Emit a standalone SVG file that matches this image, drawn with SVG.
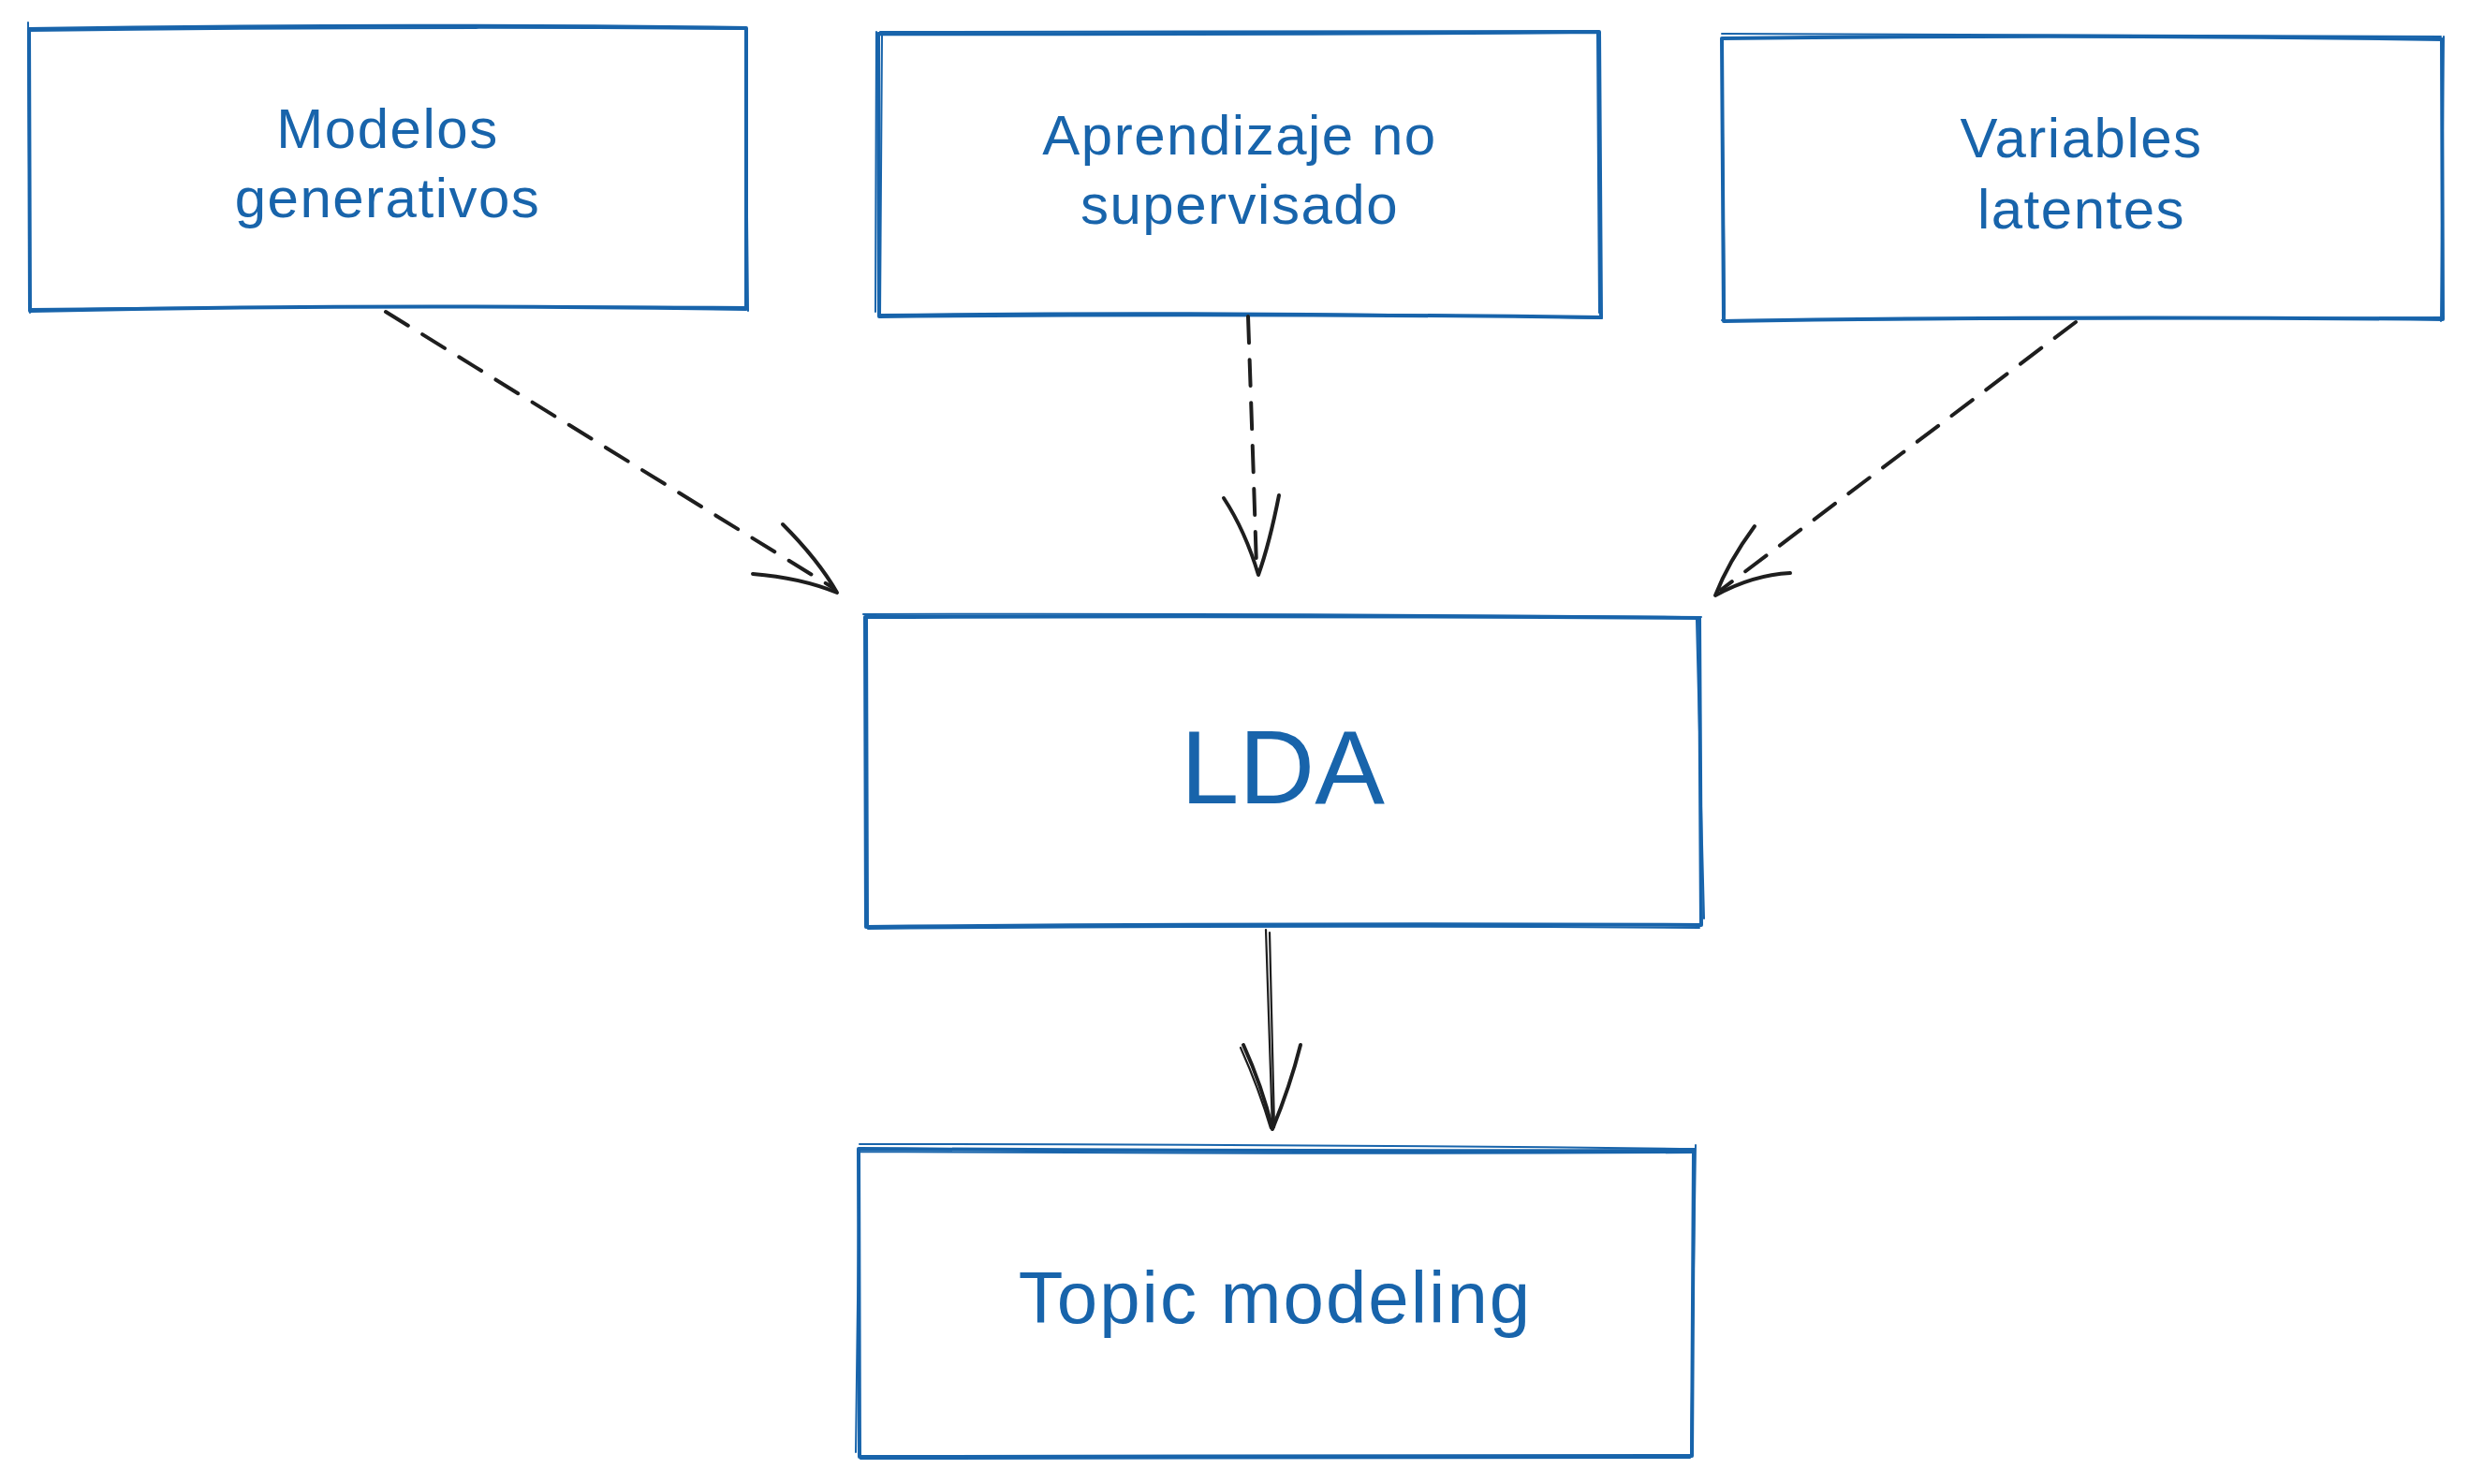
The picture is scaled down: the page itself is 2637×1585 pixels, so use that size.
<svg xmlns="http://www.w3.org/2000/svg" width="2637" height="1585" viewBox="0 0 2637 1585">
<style>
.b{fill:none;stroke:#1864ab;stroke-width:4;stroke-linecap:round;stroke-linejoin:round}
.b2{fill:none;stroke:#1864ab;stroke-width:2;stroke-linecap:round}
.t{font-family:"Liberation Sans","Noto Sans",sans-serif;fill:#1864ab;text-anchor:middle}
.s{font-size:60px;letter-spacing:1.5px}
.a{fill:none;stroke:#1e1e1e;stroke-width:4;stroke-linecap:round;stroke-linejoin:round}
.d{stroke-dasharray:28 18}
.a2{fill:none;stroke:#1e1e1e;stroke-width:2.2;stroke-linecap:round}
</style>
<rect width="2637" height="1585" fill="#ffffff"/>
<g id="n1">
<path class="b" d="M31 31 Q400 25 797 30 L797 330 Q400 324 32 332 Z"/>
<path class="b2" d="M30 24 L32 334 M30 33 Q420 28 795 31 M796 29 L799 332 M33 330 Q420 326 798 328"/>
<text class="t s" x="414" y="158">Modelos</text>
<text class="t s" x="414" y="232">generativos</text>
</g>
<g id="n2">
<path class="b" d="M938 36 Q1320 37 1708 34 L1710 339 Q1320 334 939 338 Z"/>
<path class="b2" d="M936 34 L935 333 M942 38 L940 338 M940 34 Q1320 35 1706 33 M1706 36 L1708 334 M941 336 Q1330 331 1711 340"/>
<text class="t s" x="1324" y="165">Aprendizaje no</text>
<text class="t s" x="1324" y="239">supervisado</text>
</g>
<g id="n3">
<path class="b" d="M1839 41 Q2220 36 2608 42 L2609 341 Q2220 337 1841 343 Z"/>
<path class="b2" d="M1839 36 Q2220 37 2607 39 M1839 44 L1842 336 M2610 39 L2607 343 M1839 342 Q2220 339 2609 339"/>
<text class="t s" x="2223" y="168">Variables</text>
<text class="t s" x="2223" y="244">latentes</text>
</g>
<g id="n4">
<path class="b" d="M924 659 Q1370 657 1815 660 L1817 988 Q1370 986 925 990 Z"/>
<path class="b2" d="M922 656 Q1370 655 1817 659 M926 661 L927 988 M1812 662 L1820 981 M927 992 Q1370 988 1815 991"/>
<text class="t" x="1370" y="858" font-size="112">LDA</text>
</g>
<g id="n5">
<path class="b" d="M917 1227 Q1360 1230 1809 1229 L1807 1555 Q1360 1554 918 1556 Z"/>
<path class="b2" d="M918 1222 Q1360 1222 1811 1227 M917 1230 Q1360 1233 1808 1231 M1811 1223 L1806 1553 M918 1228 L914 1551 M919 1558 Q1360 1557 1805 1557"/>
<text class="t" x="1362" y="1413" font-size="78" letter-spacing="2">Topic modeling</text>
</g>
<g id="connectors">
<path class="a d" d="M412 333 L890 628"/>
<path class="a" d="M836 560 Q874 598 894 633 Q855 617 804 613"/>
<path class="a d" d="M1333 338 Q1338 480 1342 606"/>
<path class="a" d="M1307 532 Q1330 567 1344 614 Q1356 580 1366 529"/>
<path class="a d" d="M2217 344 L1838 630"/>
<path class="a" d="M1874 562 Q1846 600 1832 636 Q1872 614 1912 612"/>
<path class="a2" d="M1352 993 L1359 1206 M1356 996 L1361 1204"/>
<path class="a" d="M1328 1116 Q1348 1160 1359 1206 Q1378 1160 1389 1116"/>
<path class="a2" d="M1325 1119 Q1345 1164 1357 1205"/>
</g>
</svg>
